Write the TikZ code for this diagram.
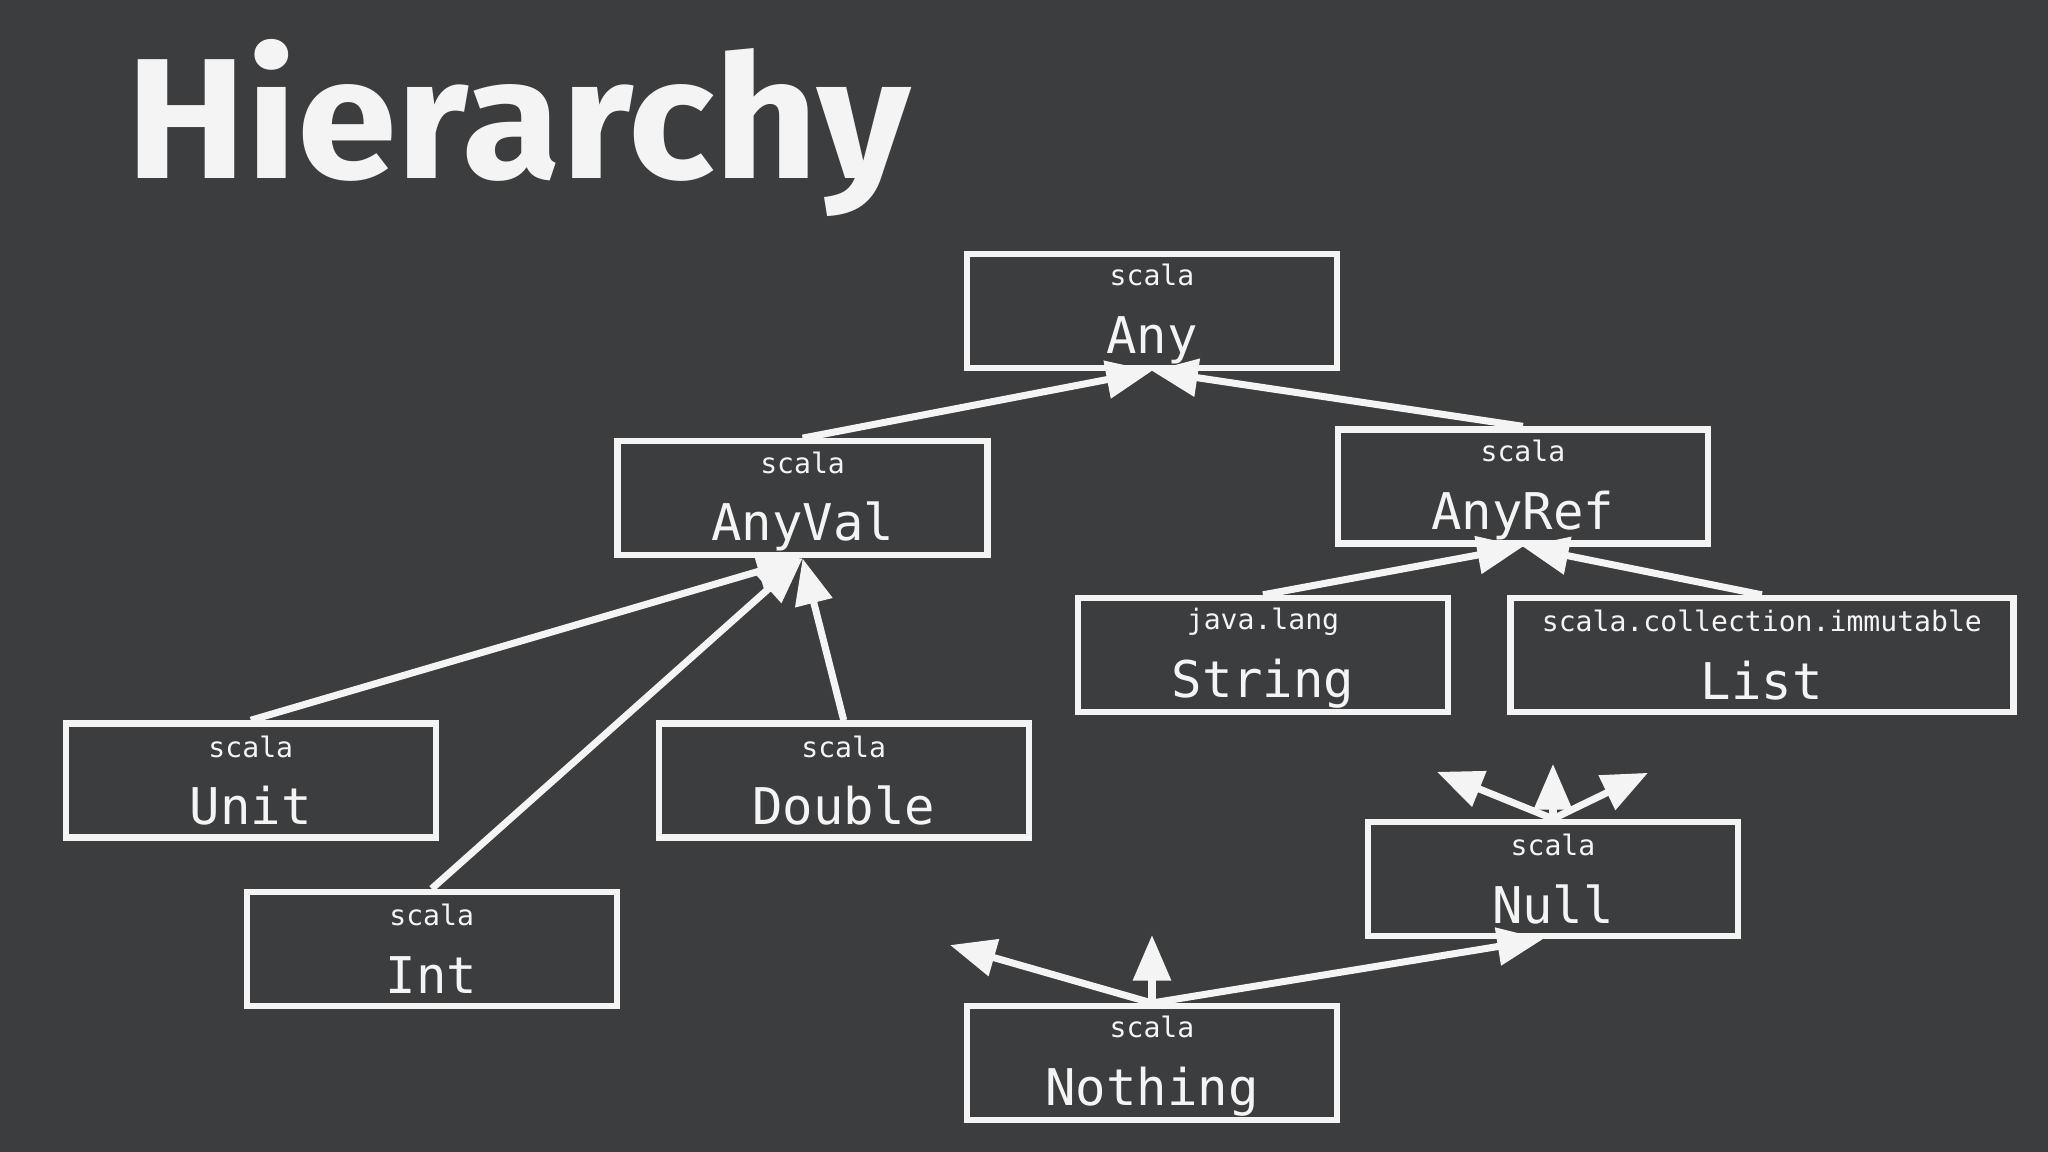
\documentclass[tikz,border=0pt]{standalone}
\usepackage{fontspec}
\usetikzlibrary{arrows.meta}

\newfontfamily\titlefont[FakeStretch=1.05]{Fira Sans}
\newfontfamily\codefont{DejaVu Sans Mono}
\newcommand{\pkgfont}{\codefont\fontsize{8pt}{10pt}\selectfont}
\newcommand{\namefont}{\codefont\fontsize{14.4pt}{19.26pt}\selectfont}
% package line above, class name below
\newcommand{\scalatype}[2]{{\pkgfont\rule{0pt}{8pt}#1}\\#2\rule[-2pt]{0pt}{0pt}}

\definecolor{board}{HTML}{3C3D3F}
\definecolor{chalk}{HTML}{F4F4F4}

\begin{document}
\begin{tikzpicture}[x=1cm,y=1cm,
    typebox/.style={draw=chalk, line width=1.8pt, text=chalk, font=\namefont,
        minimum width=3.70cm, minimum height=1.14cm, inner sep=0pt, align=center},
    inh/.style={draw=chalk, line width=2pt, -{Triangle[length=13pt,width=10.5pt]}}]
    \useasboundingbox (0,0) rectangle (20.48,-11.52);
    \fill[board] (0,0) rectangle (20.48,-11.52);

    \node[anchor=base west, inner sep=0pt, text=chalk, font=\titlefont\bfseries\fontsize{48.8pt}{58pt}\selectfont]
        (title) at (1.26,-1.785) {Hierarchy};

    \node[typebox] (any)     at (11.520, -3.108) {\scalatype{scala}{Any}};
    \node[typebox] (anyval)  at (8.026, -4.983)  {\scalatype{scala}{AnyVal}};
    \node[typebox] (anyref)  at (15.229, -4.865) {\scalatype{scala}{AnyRef}};
    \node[typebox] (string)  at (12.630, -6.550) {\scalatype{java.lang}{String}};
    \node[typebox, minimum width=5.03cm] (list) at (17.619, -6.550) {\scalatype{scala.collection.immutable}{List}};
    \node[typebox] (unit)    at (2.508, -7.804)  {\scalatype{scala}{Unit}};
    \node[typebox] (double)  at (8.437, -7.804)  {\scalatype{scala}{Double}};
    \node[typebox] (int)     at (4.317, -9.489)  {\scalatype{scala}{Int}};
    \node[typebox] (null)    at (15.530, -8.790) {\scalatype{scala}{Null}};
    \node[typebox] (nothing) at (11.520, -10.632){\scalatype{scala}{Nothing}};

    % free ends
    \coordinate (nullL) at ([shift={(-1.16,0.47)}]null.north);
    \coordinate (nullM) at ([shift={(0,0.55)}]null.north);
    \coordinate (nullR) at ([shift={(0.95,0.46)}]null.north);
    \coordinate (nothingL) at ([shift={(-2.02,0.58)}]nothing.north);
    \coordinate (nothingM) at ([shift={(0,0.68)}]nothing.north);

    \draw[inh] (anyval.north) -- (any.south);
    \draw[inh] (anyref.north) -- (any.south);
    \draw[inh] (unit.north) -- (anyval.south);
    \draw[inh] (int.north) -- (anyval.south);
    \draw[inh] (double.north) -- (anyval.south);
    \draw[inh] (string.north) -- (anyref.south);
    \draw[inh] (list.north) -- (anyref.south);

    \draw[inh] (null.north) -- (nullL);
    \draw[inh] (null.north) -- (nullM);
    \draw[inh] (null.north) -- (nullR);
    \draw[inh] (nothing.north) -- (nothingL);
    \draw[inh] (nothing.north) -- (nothingM);
    \draw[inh] (nothing.north) -- ([xshift=-0.1cm]null.south);
\end{tikzpicture}
\end{document}
